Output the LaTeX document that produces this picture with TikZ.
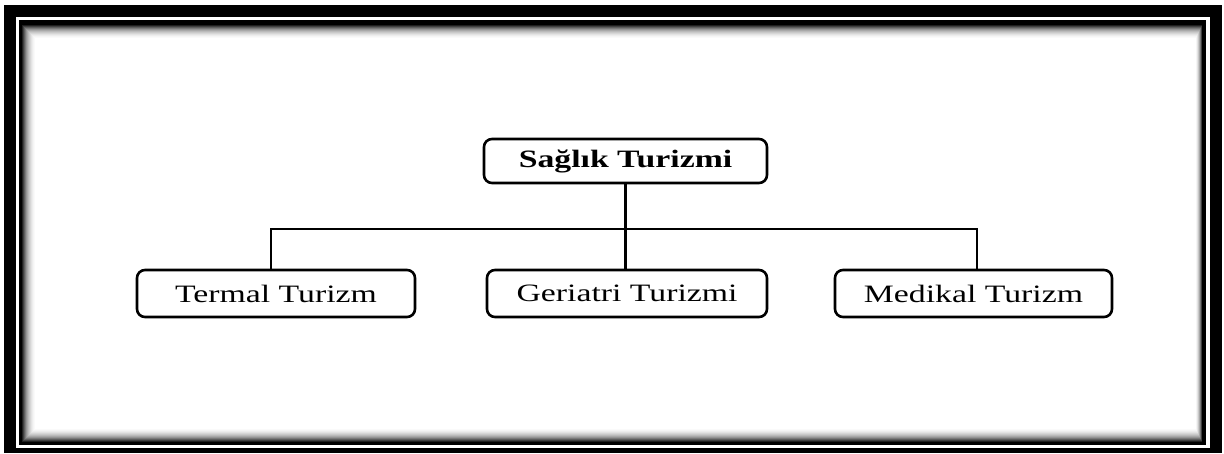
\documentclass[tikz,border=0pt]{standalone}
\usepackage{fontspec}
\newfontfamily\wideserif[FakeStretch=1.35]{Liberation Serif}
\begin{document}
\begin{tikzpicture}[x=1pt,y=-1pt,
  box/.style={draw=black, line width=2.6pt, rounded corners=8pt, fill=white,
    inner sep=0pt, align=center, font=\wideserif\fontsize{25}{28}\selectfont},
  conn/.style={draw=black, line width=2.6pt}]
\useasboundingbox (0,0) rectangle (1224,453);
\fill[white] (0,0) rectangle (1224,453);
% frame
\fill[black] (4,5) rectangle (1222,453);
\fill[white] (16,17) rectangle (1210,448);
\fill[black] (19,20) rectangle (1206,445);
\foreach \i/\g in {0/88,1/75,2/63,3/52,4/42,5/34,6/27,7/21,8/16,9/11,10/7,11/4,12/2,13/0} {
  \fill[black!\g!white] (22+\i,25+\i) rectangle (1202-0.5*\i,442-\i);
}
% nodes
\node[box, minimum width=283pt, minimum height=44pt, font=\wideserif\bfseries\fontsize{25}{28}\selectfont] (top) at (625.5,161) {Sağlık Turizmi};
\node[box, minimum width=278pt, minimum height=47pt] (term) at (276,293.5) {Termal\ Turizm};
\node[box, minimum width=280pt, minimum height=47pt] (ger) at (627,293.5) {Geriatri\ Turizmi};
\node[box, minimum width=277pt, minimum height=47pt] (med) at (973.5,293.5) {Medikal\ Turizm};
% connectors
\coordinate (bl) at (271,229);
\coordinate (br) at (977,229);
\draw[conn] (bl |- term.north) -- (bl) -- (br) -- (br |- med.north);
\draw[conn] (top.south) -- (top.south |- ger.north);
\end{tikzpicture}
\end{document}
